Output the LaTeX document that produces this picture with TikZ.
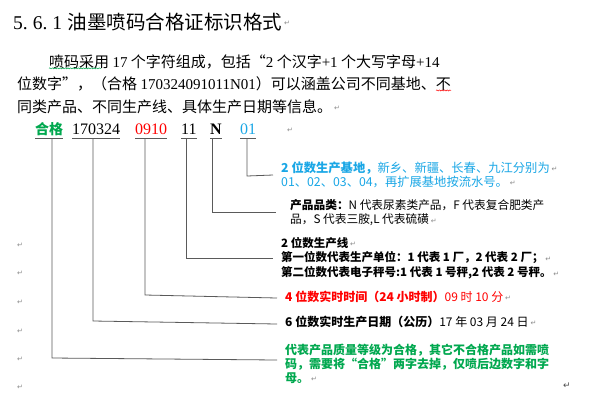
\documentclass[tikz,border=0pt]{standalone}
\usepackage{fontspec}
\setmainfont{Noto Sans CJK SC}
\newfontfamily\tnr{Liberation Serif}
\newfontfamily\dv{DejaVu Sans}
\usetikzlibrary{decorations.pathmorphing}
\definecolor{cblue}{HTML}{1AA7E6}
\definecolor{cred}{HTML}{FF0000}
\definecolor{cgreen}{HTML}{00A84F}
\definecolor{cline}{HTML}{5A5A5A}
\definecolor{cpm}{HTML}{8A8A8A}
\tikzset{
  conn/.style={draw=cline, line width=0.8pt},
  para/.style={inner sep=0, anchor=west, font=\fontsize{15}{22}\selectfont},
  codetxt/.style={inner xsep=0, inner ysep=0, anchor=base west, text depth=3.5pt, font=\tnr\fontsize{16}{18}\selectfont},
  ann/.style={inner sep=0, anchor=west},
  pm/.style={inner sep=0, text=cpm, font=\dv\fontsize{7}{7}\selectfont},
  wavy/.style={decorate, decoration={snake, amplitude=0.55pt, segment length=2.6pt}, line width=0.5pt}
}
\newcommand{\pmafter}[1]{\node[pm, anchor=west] (pm-#1) at ([xshift=1.5pt,yshift=-1pt]#1.east) {↵};}
\begin{document}
\begin{tikzpicture}[x=1pt,y=-1pt]
\fill[white] (0,0) rectangle (615,413);
\useasboundingbox (0,0) rectangle (615,413);

% title
\node[inner sep=0, anchor=west, font=\fontsize{19.5}{22}\selectfont] (title) at (13,22)
  {{\tnr 5.\hspace{5pt}6.\hspace{5pt}1\hspace{5.5pt}}油墨喷码合格证标识格式};

% paragraph
\node[para] (p1) at (49,62) {喷码采用 {\tnr 17} 个字符组成，包括“{\tnr 2} 个汉字{\tnr +1} 个大写字母{\tnr +14}};
\node[para] (p2) at (17,84) {位数字”，（合格 {\tnr 170324091011N01}）可以涵盖公司不同基地、不};
\node[para] (p3) at (17,107) {同类产品、不同生产线、具体生产日期等信息。};
\draw[cgreen, wavy] (p1.south west) ++(0,-1) -- ++(52,0);
\draw[cred, wavy] (p2.south east) ++(-15,-1) -- ++(15,0);

% code row
\node[codetxt, font=\fontsize{14}{16}\selectfont\bfseries, text=cgreen] (hege) at (35,134.5) {合格};
\node[codetxt] (d170) at (72,134.5) {170324};
\node[codetxt, text=cred] (t0910) at (135,134.5) {0910};
\node[codetxt] (n11) at (181,134.5) {11};
\node[codetxt, font=\tnr\bfseries\fontsize{16}{18}\selectfont] (nN) at (210,134.5) {N};
\node[codetxt, text=cblue] (n01) at (240,134.5) {01};
\node[pm] (pmc) at (290,130) {↵};

\foreach \n in {hege,d170,t0910,n11,nN,n01}
  \draw[conn] (\n.south west) -- (\n.south east);

% annotations, one node per printed line
\begin{scope}[every node/.append style={ann}]
\node[font=\fontsize{12.3}{14}\selectfont, text=cblue] (b1) at (281,168)
  {\textbf{2 位数生产基地，}新乡、新疆、长春、九江分别为};
\node[font=\fontsize{12.3}{14}\selectfont, text=cblue] (b2) at (281,182)
  {01、02、03、04，再扩展基地按流水号。};
\node[font=\fontsize{11.7}{14}\selectfont] (k1) at (290,205)
  {\textbf{产品品类：}N 代表尿素类产品，F 代表复合肥类产};
\node[font=\fontsize{11.7}{14}\selectfont] (k2) at (290,220)
  {品，S 代表三胺,L 代表硫磺};
\node[font=\fontsize{11.5}{14}\selectfont\bfseries] (l1) at (281,243) {2 位数生产线};
\node[font=\fontsize{11.5}{14}\selectfont\bfseries] (l2) at (281,258)
  {第一位数代表生产单位：1 代表 1 厂，2 代表 2 厂；};
\node[font=\fontsize{11.5}{14}\selectfont\bfseries] (l3) at (281,273)
  {第二位数代表电子秤号:1 代表 1 号秤,2 代表 2 号秤。};
\node[font=\fontsize{12}{14}\selectfont, text=cred] (time) at (285,297)
  {\textbf{4 位数实时时间（24 小时制）}09 时 10 分};
\node[font=\fontsize{12}{14}\selectfont] (date) at (285,322)
  {\textbf{6 位数实时生产日期（公历）}17 年 03 月 24 日};
\node[font=\fontsize{12}{14}\selectfont\bfseries, text=cgreen] (g1) at (285,350)
  {代表产品质量等级为合格，其它不合格产品如需喷};
\node[font=\fontsize{12}{14}\selectfont\bfseries, text=cgreen] (g2) at (285,364)
  {码，需要将“合格”两字去掉，仅喷后边数字和字};
\node[font=\fontsize{12}{14}\selectfont\bfseries, text=cgreen] (g3) at (285,378) {母。};
\end{scope}

% connector corners and ends
\coordinate (c1) at (52,358);  \coordinate (e1) at (277,360);
\coordinate (c2) at (93,321);  \coordinate (e2) at (277,324);
\coordinate (c3) at (145,295); \coordinate (e3) at (277,298);
\coordinate (c4) at (186,258); \coordinate (e4) at (273,258);
\coordinate (c5) at (212,212); \coordinate (e5) at (276,212);
\coordinate (c6) at (247,176); \coordinate (e6) at (273,175);

\draw[conn] (hege.south -| c1) -- (c1) -- (e1);
\draw[conn] (d170.south -| c2) -- (c2) -- (e2);
\draw[conn] (t0910.south -| c3) -- (c3) -- (e3);
\draw[conn] (n11.south -| c4) -- (c4) -- (e4);
\draw[conn] (nN.south -| c5) -- (c5) -- (e5);
\draw[conn] (n01.south -| c6) -- (c6) -- (e6);

% paragraph marks
\pmafter{title}
\pmafter{p3}
\pmafter{b1}
\pmafter{b2}
\pmafter{k2}
\pmafter{l1}
\pmafter{l2}
\pmafter{l3}
\pmafter{time}
\pmafter{date}
\pmafter{g3}
\foreach \yy [count=\i] in {245,273,302,331,359,387}
  \node[pm] (pml\i) at (20,\yy) {↵};
\node[pm, text=black!70, font=\dv\fontsize{9}{9}\selectfont] (pmend) at (567,386) {↵};
\end{tikzpicture}
\end{document}
